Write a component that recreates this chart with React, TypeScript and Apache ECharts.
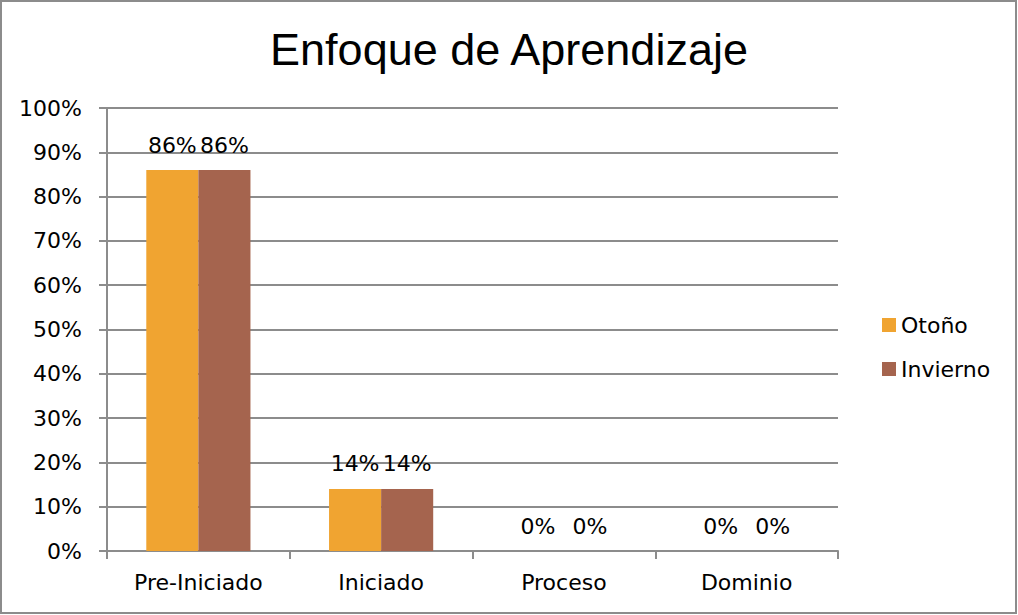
import React, { useEffect, useRef } from "react";
import * as echarts from "echarts";

const categories = ["Pre-Iniciado", "Iniciado", "Proceso", "Dominio"];
const otono = [86, 14, 0, 0];
const invierno = [86, 14, 0, 0];
const seriesNames = ["Otoño", "Invierno"];
const titleText = "Enfoque de Aprendizaje";

export default function App() {
  const ref = useRef<HTMLDivElement>(null);
  useEffect(() => {
    document.body.style.margin = "0";
    const chart = echarts.init(ref.current!, null, { renderer: "svg" });
    const font = "'DejaVu Sans', sans-serif";
    const labelCfg = {
      show: true,
      position: "top" as const,
      distance: 14,
      formatter: (p: any) => `${p.value}%`,
      color: "#000",
      fontSize: 22,
      fontFamily: font,
    };
    chart.setOption({
      animation: false,
      backgroundColor: "#fff",
      title: {
        text: titleText,
        left: "center",
        top: 22,
        textStyle: { fontSize: 45, fontWeight: "normal", color: "#000", fontFamily: "'Liberation Sans', Arial, sans-serif" },
      },
      legend: {
        orient: "vertical",
        left: 877,
        top: 309,
        itemWidth: 14,
        itemHeight: 14,
        itemGap: 22,
        icon: "rect",
        textStyle: { fontSize: 22, color: "#000", fontFamily: font },
        data: seriesNames,
      },
      grid: { left: 107, right: 180, top: 108, bottom: 64, containLabel: false },
      xAxis: {
        type: "category",
        data: categories,
        axisLine: { lineStyle: { color: "#8c8c8c", width: 2 } },
        axisTick: { show: true, length: 8, lineStyle: { color: "#8c8c8c", width: 2 } },
        axisLabel: { color: "#000", fontSize: 22, fontFamily: font, margin: 20 },
      },
      yAxis: {
        type: "value",
        min: 0,
        max: 100,
        interval: 10,
        axisLine: { show: true, lineStyle: { color: "#8c8c8c", width: 2 } },
        axisTick: { show: true, length: 8, lineStyle: { color: "#8c8c8c", width: 2 } },
        splitLine: { show: true, lineStyle: { color: "#8c8c8c", width: 2 } },
        axisLabel: { color: "#000", fontSize: 22, fontFamily: font, margin: 25, formatter: "{value}%" },
      },
      series: [
        {
          name: seriesNames[0],
          type: "bar",
          data: otono,
          itemStyle: { color: "#F0A431" },
          barGap: "0%",
          barCategoryGap: "43%",
          label: labelCfg,
        },
        {
          name: seriesNames[1],
          type: "bar",
          data: invierno,
          itemStyle: { color: "#A5644E" },
          label: labelCfg,
        },
      ],
      graphic: [
        {
          type: "rect",
          shape: { x: 1, y: 1, width: 1015, height: 612 },
          style: { fill: "none", stroke: "#8c8c8c", lineWidth: 2 },
          silent: true,
        },
      ],
    });
    return () => chart.dispose();
  }, []);
  return <div ref={ref} style={{ width: 1018, height: 615 }} />;
}
